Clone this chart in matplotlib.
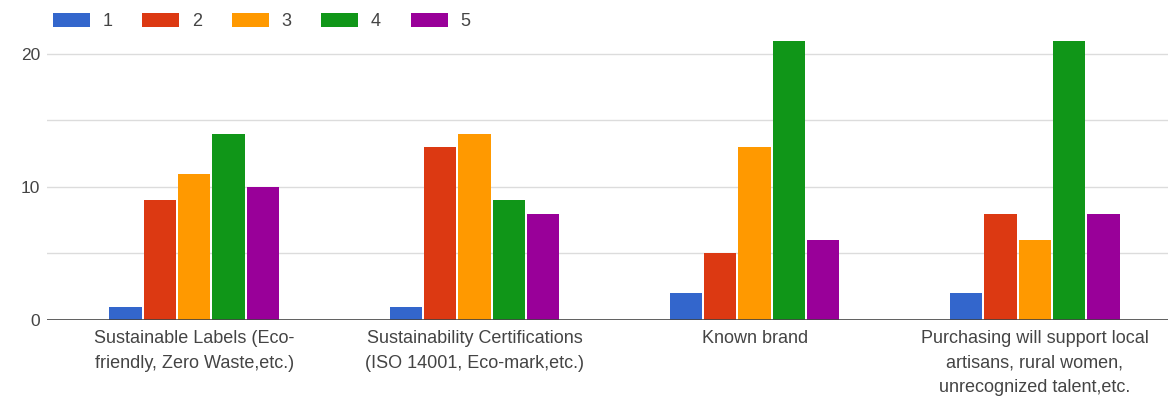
import numpy as np
import matplotlib
matplotlib.use("Agg")
import matplotlib.pyplot as plt

plt.rcParams["font.family"] = ["Liberation Sans", "DejaVu Sans"]

categories = [
    "Sustainable Labels (Eco-\nfriendly, Zero Waste,etc.)",
    "Sustainability Certifications\n(ISO 14001, Eco-mark,etc.)",
    "Known brand",
    "Purchasing will support local\nartisans, rural women,\nunrecognized talent,etc.",
]
series_labels = ["1", "2", "3", "4", "5"]
rating_1 = [1, 1, 2, 2]
rating_2 = [9, 13, 5, 8]
rating_3 = [11, 14, 13, 6]
rating_4 = [14, 9, 21, 21]
rating_5 = [10, 8, 6, 8]
colors = ["#3366cc", "#dc3912", "#ff9900", "#109618", "#990099"]

series = [rating_1, rating_2, rating_3, rating_4, rating_5]
FS = 13

fig = plt.figure(figsize=(11.68, 3.98), dpi=100)
ax = fig.add_axes([47 / 1168, 78 / 398, 1 - 47 / 1168, 320 / 398])

x = np.arange(len(categories))
step = 0.1225
for i, (vals, lab, col) in enumerate(zip(series, series_labels, colors)):
    ax.bar(x + (i - 2) * step, vals, width=step - 0.007, color=col,
           label=lab, zorder=3)

ax.set_xlim(-0.525, 3.475)
ax.set_ylim(0, 24.06)

# light horizontal gridlines every 5, labels only on 0/10/20
for g in (5, 10, 15, 20):
    ax.axhline(g, color="#dcdcdc", lw=1, zorder=1)
ax.axhline(0, color="#444444", lw=1.2, zorder=4)
ax.set_yticks([0, 10, 20])
ax.set_yticklabels(["0", "10", "20"])
ax.tick_params(axis="y", length=0, pad=5, labelsize=FS - 0.5,
               labelcolor="#444444")

ax.set_xticks(x)
ax.set_xticklabels(categories, fontsize=FS, color="#444444",
                   linespacing=1.6, va="top")
ax.tick_params(axis="x", length=0, pad=7)

for s in ax.spines.values():
    s.set_visible(False)

fig.legend(loc="upper left", bbox_to_anchor=(53 / 1168, 1 - 13 / 398),
           bbox_transform=fig.transFigure, ncol=5, frameon=False,
           fontsize=FS, handlelength=2.05, handleheight=0.85,
           handletextpad=0.7, columnspacing=1.65, borderpad=0,
           borderaxespad=0, labelcolor="#444444")

fig.savefig("out.png", dpi=100)
